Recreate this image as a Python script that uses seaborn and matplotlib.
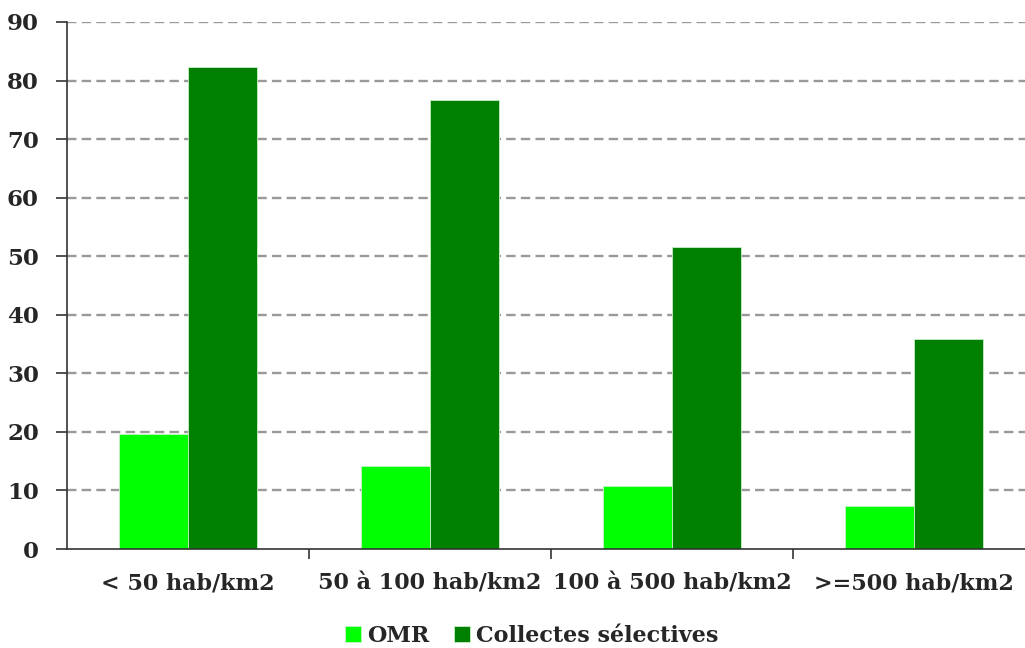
import matplotlib
matplotlib.use("Agg")
import matplotlib.pyplot as plt
import pandas as pd
import seaborn as sns

categories = ["< 50 hab/km2", "50 à 100 hab/km2", "100 à 500 hab/km2", ">=500 hab/km2"]
series = ["OMR", "Collectes sélectives"]
omr = [19.6, 14.1, 10.8, 7.3]
collectes = [82.3, 76.6, 51.5, 35.8]
colors = ["#00ff00", "#008000"]
yticks = [0, 10, 20, 30, 40, 50, 60, 70, 80, 90]

df = pd.DataFrame({
    "categorie": categories * 2,
    "serie": [series[0]] * 4 + [series[1]] * 4,
    "valeur": omr + collectes,
})

sns.set_style("white")
plt.rcParams["font.family"] = ["DejaVu Serif"]
plt.rcParams["font.weight"] = "bold"

W, H = 1025, 648
fig = plt.figure(figsize=(W / 100, H / 100), dpi=100)
x0, x1 = 66.7, 1035
y0, y1 = 549, 22
ax = fig.add_axes([x0 / W, 1 - y0 / H, (x1 - x0) / W, (y0 - y1) / H])

sns.barplot(data=df, x="categorie", y="valeur", hue="serie", order=categories,
            hue_order=series, palette=colors, width=0.57, gap=0,
            edgecolor="#c8f0c8", linewidth=0.6, saturation=1, ax=ax, legend=True)

ax.set_ylim(0, 90)
ax.set_xlim(-0.5, 3.5)
ax.set_yticks(yticks)
ax.set_yticklabels([str(v) for v in yticks], fontsize=16.5, fontweight="bold")
ax.set_xticks([0, 1, 2, 3])
ax.set_xticklabels(categories, fontsize=16, fontweight="bold")
ax.set_xlabel("")
ax.set_ylabel("")

# grille pointillée
for v in yticks[1:]:
    ax.axhline(v, color="#999999", linestyle=(0, (4, 2.2)), linewidth=1.7, zorder=0)
ax.set_axisbelow(True)

for side in ["top", "right"]:
    ax.spines[side].set_visible(False)
ax.spines["left"].set_color("#333333")
ax.spines["bottom"].set_color("#333333")
ax.spines["left"].set_linewidth(1.2)
ax.spines["bottom"].set_linewidth(1.2)

ax.tick_params(axis="y", length=8, width=1.2, color="#333333", pad=12, left=True)
ax.tick_params(axis="x", which="major", length=0, pad=17)
ax.set_xticks([0.5, 1.5, 2.5], minor=True)
ax.tick_params(axis="x", which="minor", length=7, width=1.2, color="#333333", bottom=True)

ax.legend(loc="center", bbox_to_anchor=(532 / W, 1 - 636 / H), bbox_transform=fig.transFigure,
          ncol=2, frameon=False, handlelength=0.7, handleheight=0.7, handletextpad=0.3,
          columnspacing=1.1, prop={"size": 16, "weight": "bold"})

fig.savefig("out.png", dpi=100)
